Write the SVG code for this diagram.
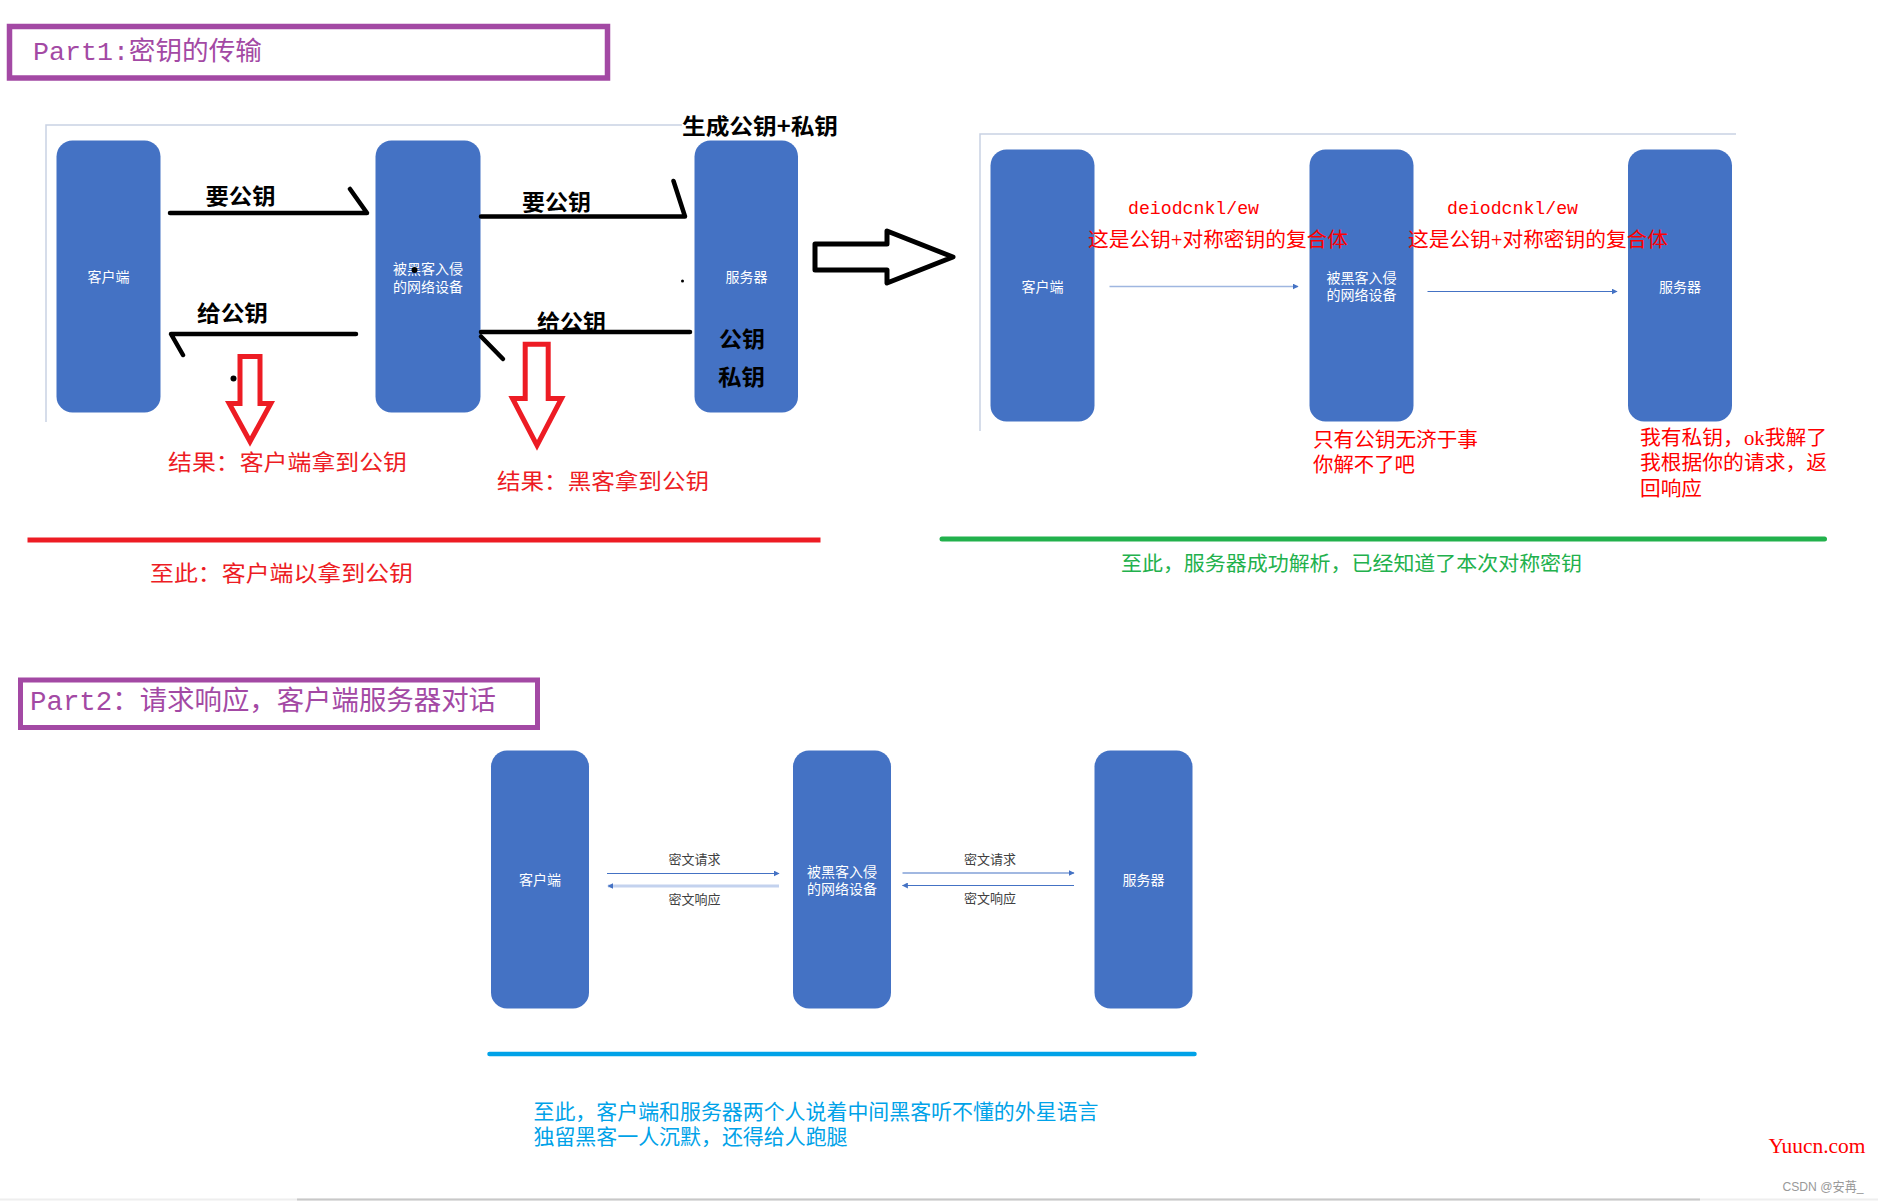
<svg xmlns="http://www.w3.org/2000/svg" width="1878" height="1201" viewBox="0 0 1878 1201">
<defs>
<style>
.box{fill:#4472C4}
.lbl{fill:#ffffff;font-family:"Noto Sans CJK SC","Noto Sans",sans-serif;font-size:14px;text-anchor:middle}
.mono{font-family:"Liberation Mono","Noto Sans CJK SC",monospace}
.hand{fill:#000000;font-family:"Noto Sans CJK SC",sans-serif;font-weight:bold;font-size:22px}
.red{fill:#ED1C24;font-family:"Noto Sans CJK SC",sans-serif;font-size:22px}
.rr{fill:#FF0000;font-family:"Liberation Serif","Noto Sans CJK SC",serif;font-size:20px}
.bl{fill:#00A2E8;font-family:"Liberation Serif","Noto Sans CJK SC",serif;font-size:21px}
.blk{fill:none;stroke:#000000;stroke-width:4.5;stroke-linecap:round;stroke-linejoin:round}
.redarrow{fill:#ffffff;stroke:#ED1C24;stroke-width:5;stroke-linejoin:miter}
.frame{fill:none;stroke:#c9d2e3;stroke-width:1.5}
.thin{stroke:#4472C4;stroke-width:1.2;fill:none}
.ct{fill:#404040;font-family:"Noto Sans CJK SC",sans-serif;font-size:13px;text-anchor:middle}
</style>
<marker id="ah" viewBox="0 0 10 10" refX="9" refY="5" markerWidth="6" markerHeight="6" markerUnits="userSpaceOnUse" orient="auto">
<path d="M0,0 L10,5 L0,10 Z" fill="#4472C4"/>
</marker>
</defs>
<rect x="0" y="0" width="1878" height="1201" fill="#ffffff"/>

<!-- Part 1 title -->
<g id="part1-title">
<rect x="9.5" y="26.5" width="598" height="51.5" fill="#ffffff" stroke="#A349A4" stroke-width="5.5"/>
<text x="33" y="60" class="mono" font-size="26" fill="#A349A4" textLength="229" lengthAdjust="spacingAndGlyphs">Part1:密钥的传输</text>
</g>

<!-- frames -->
<polyline class="frame" points="46,422 46,125 682,125"/>
<polyline class="frame" points="980,431 980,134 1736,134"/>

<!-- Panel 1 nodes -->
<g id="p1-client">
<rect class="box" x="56.5" y="140.5" width="104" height="272" rx="16"/>
<text class="lbl" x="108.5" y="282">客户端</text>
</g>
<g id="p1-hacker">
<rect class="box" x="375.5" y="140.5" width="105" height="272" rx="16"/>
<text class="lbl" x="428" y="274">被黑客入侵</text>
<text class="lbl" x="428" y="291.5">的网络设备</text>
<circle cx="414.5" cy="270" r="3" fill="#000000"/>
</g>
<g id="p1-server">
<rect class="box" x="694.5" y="140.5" width="103.5" height="272" rx="16"/>
<text class="lbl" x="746.5" y="282">服务器</text>
<text class="hand" x="719" y="346.5" font-size="23" textLength="46" lengthAdjust="spacingAndGlyphs">公钥</text>
<text class="hand" x="718" y="385" font-size="23" textLength="47" lengthAdjust="spacingAndGlyphs">私钥</text>
</g>
<text class="hand" x="682" y="134" font-size="24" textLength="156" lengthAdjust="spacingAndGlyphs">生成公钥+私钥</text>
<circle cx="682.5" cy="281" r="1.5" fill="#000000"/>

<!-- Panel 1 connectors -->
<g id="p1-connectors">
<polyline class="blk" points="170,213 367,213 350,189"/>
<polyline class="blk" points="481,216.5 685,216.5 673.5,181"/>
<polyline class="blk" points="356,334 171,334 183,355"/>
<polyline class="blk" points="690,332 481,332"/>
<line class="blk" x1="481" y1="336.5" x2="503" y2="359"/>
<text class="hand" x="205.5" y="203.5" textLength="70" lengthAdjust="spacingAndGlyphs">要公钥</text>
<text class="hand" x="522" y="210" textLength="69" lengthAdjust="spacingAndGlyphs">要公钥</text>
<text class="hand" x="197" y="321" textLength="71" lengthAdjust="spacingAndGlyphs">给公钥</text>
<text class="hand" x="537" y="330" textLength="69" lengthAdjust="spacingAndGlyphs">给公钥</text>
</g>

<!-- red down arrows and results -->
<g id="result-client">
<path class="redarrow" d="M240,356.5 H260 V403.5 H270.8 L250,441.5 L229.2,403.5 H240 Z"/>
<circle cx="233.5" cy="378.5" r="3" fill="#000000"/>
<text class="red" x="168" y="470" font-size="23" textLength="239" lengthAdjust="spacingAndGlyphs">结果：客户端拿到公钥</text>
</g>
<g id="result-hacker">
<path class="redarrow" d="M525.2,344.2 H548.2 V398.5 H561.5 L537,445.3 L512.5,398.5 H525.2 Z"/>
<text class="red" x="497" y="488.5" font-size="23" textLength="212" lengthAdjust="spacingAndGlyphs">结果：黑客拿到公钥</text>
</g>

<!-- big hollow arrow -->
<path d="M815,244 H887 V231 L953,257 L887,283 V270 H815 Z" fill="#ffffff" stroke="#000000" stroke-width="5" stroke-linejoin="round"/>

<!-- Panel 2 nodes -->
<g id="p2-client">
<rect class="box" x="990.5" y="149.5" width="104" height="272" rx="16"/>
<text class="lbl" x="1042.5" y="291.5">客户端</text>
</g>
<g id="p2-hacker">
<rect class="box" x="1309.5" y="149.5" width="104" height="272" rx="16"/>
<text class="lbl" x="1361.5" y="283">被黑客入侵</text>
<text class="lbl" x="1361.5" y="300">的网络设备</text>
</g>
<g id="p2-server">
<rect class="box" x="1628" y="149.5" width="104" height="272" rx="16"/>
<text class="lbl" x="1680" y="291.5">服务器</text>
</g>

<g id="p2-connectors">
<line x1="1109.5" y1="286.5" x2="1298" y2="286.5" stroke="#9fb6e0" stroke-width="1.5" marker-end="url(#ah)"/>
<line class="thin" x1="1427.5" y1="291.5" x2="1617" y2="291.5" marker-end="url(#ah)"/>
<text class="mono" x="1128" y="214" font-size="18" fill="#FF0000" textLength="131" lengthAdjust="spacingAndGlyphs">deiodcnkl/ew</text>
<text class="mono" x="1447" y="214" font-size="18" fill="#FF0000" textLength="131" lengthAdjust="spacingAndGlyphs">deiodcnkl/ew</text>
<text class="rr" x="1088" y="247" font-size="21" textLength="260" lengthAdjust="spacingAndGlyphs">这是公钥+对称密钥的复合体</text>
<text class="rr" x="1408" y="247" font-size="21" textLength="260" lengthAdjust="spacingAndGlyphs">这是公钥+对称密钥的复合体</text>
</g>

<text class="rr" x="1313" y="447" textLength="165" lengthAdjust="spacingAndGlyphs">只有公钥无济于事</text>
<text class="rr" x="1313" y="471.5" textLength="102" lengthAdjust="spacingAndGlyphs">你解不了吧</text>
<text class="rr" x="1640" y="445" textLength="187" lengthAdjust="spacingAndGlyphs">我有私钥，ok我解了</text>
<text class="rr" x="1640" y="470" textLength="187" lengthAdjust="spacingAndGlyphs">我根据你的请求，返</text>
<text class="rr" x="1640" y="495.5" textLength="62" lengthAdjust="spacingAndGlyphs">回响应</text>

<!-- separator lines -->
<line x1="27.5" y1="540" x2="820.5" y2="540" stroke="#ED1C24" stroke-width="5"/>
<text class="red" x="150" y="581" font-size="23" textLength="263" lengthAdjust="spacingAndGlyphs">至此：客户端以拿到公钥</text>
<line x1="942" y1="539" x2="1824.5" y2="539" stroke="#22B14C" stroke-width="5" stroke-linecap="round"/>
<text x="1121" y="570.5" font-family="Noto Sans CJK SC, sans-serif" font-size="20" fill="#22B14C" textLength="461" lengthAdjust="spacingAndGlyphs">至此，服务器成功解析，已经知道了本次对称密钥</text>

<!-- Part 2 title -->
<g id="part2-title">
<rect x="20.5" y="680" width="517" height="47.5" fill="#ffffff" stroke="#A349A4" stroke-width="5"/>
<text x="30" y="710" class="mono" font-size="27" fill="#A349A4" textLength="466" lengthAdjust="spacingAndGlyphs">Part2：请求响应，客户端服务器对话</text>
</g>

<g id="p3-client">
<rect class="box" x="491" y="750.5" width="98" height="258" rx="16"/>
<text class="lbl" x="540" y="885" font-size="13.5">客户端</text>
</g>
<g id="p3-hacker">
<rect class="box" x="793" y="750.5" width="98" height="258" rx="16"/>
<text class="lbl" x="842" y="876.5" font-size="13.5">被黑客入侵</text>
<text class="lbl" x="842" y="894" font-size="13.5">的网络设备</text>
</g>
<g id="p3-server">
<rect class="box" x="1094.5" y="750.5" width="98" height="258" rx="16"/>
<text class="lbl" x="1143.5" y="885" font-size="13.5">服务器</text>
</g>

<g id="p3-connectors">
<line class="thin" x1="607" y1="873.5" x2="779" y2="873.5" marker-end="url(#ah)"/>
<line x1="779" y1="886" x2="608" y2="886" stroke="#c3d2ee" stroke-width="3" marker-end="url(#ah)"/>
<line class="thin" x1="902.5" y1="873" x2="1074" y2="873" marker-end="url(#ah)"/>
<line class="thin" x1="1074" y1="885.5" x2="902.5" y2="885.5" marker-end="url(#ah)"/>
<text class="ct" x="694.5" y="863.5">密文请求</text>
<text class="ct" x="694.5" y="903.5">密文响应</text>
<text class="ct" x="990" y="863.5">密文请求</text>
<text class="ct" x="990" y="903">密文响应</text>
</g>

<line x1="489.5" y1="1054" x2="1194.5" y2="1054" stroke="#00A2E8" stroke-width="4.5" stroke-linecap="round"/>
<text class="bl" x="533.5" y="1118.5" textLength="565" lengthAdjust="spacingAndGlyphs">至此，客户端和服务器两个人说着中间黑客听不懂的外星语言</text>
<text class="bl" x="533.5" y="1143.5" textLength="314" lengthAdjust="spacingAndGlyphs">独留黑客一人沉默，还得给人跑腿</text>

<text x="1768.5" y="1153" font-family="Liberation Serif, serif" font-size="21" fill="#FF0000" textLength="97" lengthAdjust="spacingAndGlyphs">Yuucn.com</text>
<text x="1782.5" y="1191" font-family="Liberation Sans, Noto Sans CJK SC, sans-serif" font-size="13" fill="#999999" textLength="81" lengthAdjust="spacingAndGlyphs">CSDN @安苒_</text>

<line x1="0" y1="1199.5" x2="1878" y2="1199.5" stroke="#eeeeee" stroke-width="2"/>
<line x1="297" y1="1199.5" x2="1700" y2="1199.5" stroke="#c8c8c8" stroke-width="2"/>
</svg>
